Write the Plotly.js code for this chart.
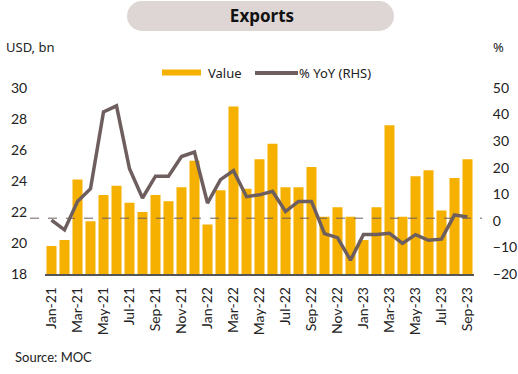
<!DOCTYPE html>
<html>
<head>
<meta charset="utf-8">
<script src="https://cdn.plot.ly/plotly-3.0.1.min.js"></script>
<style>html,body{margin:0;padding:0;background:#fff;}#chart{width:518px;height:374px;}</style>
</head>
<body>
<div id="chart"></div>
<script>
const months = ["Jan-21","Feb-21","Mar-21","Apr-21","May-21","Jun-21","Jul-21","Aug-21","Sep-21","Oct-21","Nov-21","Dec-21",
"Jan-22","Feb-22","Mar-22","Apr-22","May-22","Jun-22","Jul-22","Aug-22","Sep-22","Oct-22","Nov-22","Dec-22",
"Jan-23","Feb-23","Mar-23","Apr-23","May-23","Jun-23","Jul-23","Aug-23","Sep-23"];
const exportValue = [19.8,20.2,24.1,21.4,23.1,23.7,22.6,22.0,23.1,22.7,23.6,25.3,
21.2,23.4,28.8,23.5,25.4,26.4,23.6,23.6,24.9,21.7,22.3,21.7,
20.2,22.3,27.6,21.7,24.3,24.7,22.1,24.2,25.4];
const yoy = [0.3,-3.4,7.3,12.1,41.0,43.3,19.6,8.6,16.8,16.8,24.2,25.9,
6.7,15.5,18.9,9.1,9.8,11.1,3.5,7.3,7.3,-4.8,-6.3,-14.8,
-5.1,-5.1,-4.7,-8.5,-5.2,-7.3,-6.9,2.2,1.5];
const tickLabels = months.filter((m,i)=>i%2===0);

const barColor = "#F5B000";
const lineColor = "#6E5F5E";
const tickFont = {family:"Lato, sans-serif", size:14, color:"#222"};

const traces = [
  {type:"bar", x:months, y:exportValue, name:"Value", marker:{color:barColor}, yaxis:"y", hoverinfo:"skip"},
  {type:"scatter", mode:"lines", x:months, y:yoy, name:"% YoY (RHS)", line:{color:lineColor, width:3.5}, yaxis:"y2", hoverinfo:"skip"}
];

function px2x(px){return (px-45)/429;}
function py2y(py){return (274-py)/186;}

const layout = {
  width:518, height:374,
  margin:{l:45, r:44, t:88, b:100},
  paper_bgcolor:"#fff", plot_bgcolor:"#fff",
  showlegend:false,
  bargap:0.23,
  title:{text:"<b>Exports</b>", font:{family:"Noto Sans, sans-serif", size:17, color:"#111"}, x:262/518, xanchor:"center", y:1-16/374, yanchor:"middle", xref:"paper"},
  xaxis:{type:"category", tickmode:"array", tickvals:tickLabels, ticktext:tickLabels, tickangle:-90,
    tickfont:tickFont, ticks:"outside", ticklen:6, tickcolor:"rgba(0,0,0,0)",
    showline:true, linecolor:"#555", linewidth:1.5, showgrid:false, zeroline:false, range:[-0.5,32.5]},
  yaxis:{range:[18,30], dtick:2, tickfont:tickFont, showgrid:false, zeroline:false, showline:false,
    ticks:"outside", ticklen:14, tickcolor:"rgba(0,0,0,0)"},
  yaxis2:{range:[-20,50], dtick:10, overlaying:"y", side:"right", tickfont:tickFont, showgrid:false, zeroline:false, showline:false,
    ticks:"outside", ticklen:15, tickcolor:"rgba(0,0,0,0)"},
  shapes:[
    {type:"line", xref:"paper", yref:"y2", x0:px2x(30), x1:px2x(482), y0:1, y1:1, line:{color:lineColor, width:1, dash:"dash"}, layer:"above"},
    // title pill
    {type:"rect", xref:"paper", yref:"paper", xsizemode:"pixel", ysizemode:"pixel", xanchor:px2x(260.5), yanchor:py2y(16),
      x0:-118.5, x1:118.5, y0:-15, y1:15, fillcolor:"#DED6D4", line:{width:0}, layer:"below"},
    {type:"circle", xref:"paper", yref:"paper", xsizemode:"pixel", ysizemode:"pixel", xanchor:px2x(260.5), yanchor:py2y(16),
      x0:-133.5, x1:-103.5, y0:-15, y1:15, fillcolor:"#DED6D4", line:{width:0}, layer:"below"},
    {type:"circle", xref:"paper", yref:"paper", xsizemode:"pixel", ysizemode:"pixel", xanchor:px2x(260.5), yanchor:py2y(16),
      x0:103.5, x1:133.5, y0:-15, y1:15, fillcolor:"#DED6D4", line:{width:0}, layer:"below"},
    // legend swatches
    {type:"rect", xref:"paper", yref:"paper", x0:px2x(162), x1:px2x(201), y0:py2y(75.5), y1:py2y(69.5), fillcolor:barColor, line:{width:0}},
    {type:"line", xref:"paper", yref:"paper", x0:px2x(255), x1:px2x(298), y0:py2y(73), y1:py2y(73), line:{color:lineColor, width:4}}
  ],
  annotations:[
    {xref:"paper", yref:"paper", x:px2x(206), y:py2y(72.5), xanchor:"left", yanchor:"middle", showarrow:false, text:"Value", font:{family:"Noto Sans, sans-serif", size:13, color:"#222"}},
    {xref:"paper", yref:"paper", x:px2x(297), y:py2y(72.5), xanchor:"left", yanchor:"middle", showarrow:false, text:"% YoY (RHS)", font:{family:"Noto Sans, sans-serif", size:13, color:"#222"}},
    {xref:"paper", yref:"paper", x:px2x(4), y:py2y(47), xanchor:"left", yanchor:"middle", showarrow:false, text:"USD, bn", font:{family:"Noto Sans, sans-serif", size:13, color:"#222"}},
    {xref:"paper", yref:"paper", x:px2x(491), y:py2y(47), xanchor:"left", yanchor:"middle", showarrow:false, text:"%", font:{family:"Noto Sans, sans-serif", size:13, color:"#222"}},
    {xref:"paper", yref:"paper", x:px2x(13), y:py2y(357), xanchor:"left", yanchor:"middle", showarrow:false, text:"Source: MOC", font:{family:"Lato, sans-serif", size:13, color:"#222"}}
  ]
};

Plotly.newPlot("chart", traces, layout, {staticPlot:true, displayModeBar:false});
</script>
</body>
</html>
